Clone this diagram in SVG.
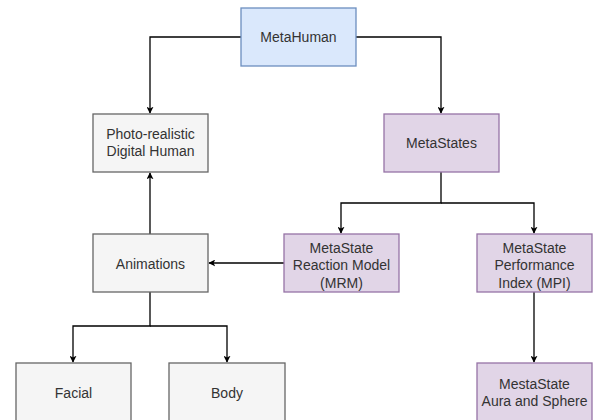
<svg xmlns="http://www.w3.org/2000/svg" width="596" height="420" viewBox="0 0 596 420">
<style>
.blue{fill:#dae8fc;stroke:#6c8ebf;stroke-width:1.3}
.purple{fill:#e1d5e7;stroke:#9673a6;stroke-width:1.3}
.grey{fill:#f5f5f5;stroke:#666666;stroke-width:1.3}
text{font-family:"Liberation Sans",Arial,sans-serif;font-size:14px;fill:#333333;text-anchor:middle}
.c{fill:none;stroke:#000000;stroke-width:1.3}
</style>
<defs>
<marker id="arr" viewBox="0 0 10 10" refX="9" refY="5" markerWidth="7" markerHeight="7" orient="auto" markerUnits="userSpaceOnUse">
<path d="M0,0 L10,5 L0,10 L2.5,5 Z" fill="#000000"/>
</marker>
</defs>
<rect width="596" height="420" fill="#ffffff"/>
<g id="connectors">
<path class="c" d="M241,37 H150 V113" marker-end="url(#arr)"/>
<path class="c" d="M356,37 H441 V113" marker-end="url(#arr)"/>
<path class="c" d="M441,172 V203 H341 V233" marker-end="url(#arr)"/>
<path class="c" d="M441,203 H534 V233" marker-end="url(#arr)"/>
<path class="c" d="M284,263 H209" marker-end="url(#arr)"/>
<path class="c" d="M150,234 V173" marker-end="url(#arr)"/>
<path class="c" d="M150,292 V326 H73 V362" marker-end="url(#arr)"/>
<path class="c" d="M150,326 H227 V362" marker-end="url(#arr)"/>
<path class="c" d="M534,292 V362" marker-end="url(#arr)"/>
</g>
<g id="metahuman">
<rect class="blue" x="241" y="8" width="115" height="58"/>
<text x="298.5" y="42">MetaHuman</text>
</g>
<g id="photo">
<rect class="grey" x="93" y="114" width="115" height="58"/>
<text x="150.5" y="139">Photo-realistic</text>
<text x="150.5" y="156">Digital Human</text>
</g>
<g id="metastates">
<rect class="purple" x="384" y="114" width="115" height="58"/>
<text x="441.5" y="148">MetaStates</text>
</g>
<g id="animations">
<rect class="grey" x="93" y="234" width="115" height="58"/>
<text x="150.5" y="268.5">Animations</text>
</g>
<g id="mrm">
<rect class="purple" x="284" y="234" width="115" height="58"/>
<text x="341.5" y="252.5">MetaState</text>
<text x="341.5" y="270">Reaction Model</text>
<text x="341.5" y="287.5">(MRM)</text>
</g>
<g id="mpi">
<rect class="purple" x="477" y="234" width="115" height="58"/>
<text x="534.5" y="252.5">MetaState</text>
<text x="534.5" y="270">Performance</text>
<text x="534.5" y="287.5">Index (MPI)</text>
</g>
<g id="facial">
<rect class="grey" x="16" y="363" width="115" height="58"/>
<text x="73.5" y="398">Facial</text>
</g>
<g id="body">
<rect class="grey" x="169" y="363" width="116" height="58"/>
<text x="227" y="398">Body</text>
</g>
<g id="aura">
<rect class="purple" x="477" y="363" width="115" height="58"/>
<text x="534.5" y="389">MestaState</text>
<text x="534.5" y="406">Aura and Sphere</text>
</g>
</svg>
